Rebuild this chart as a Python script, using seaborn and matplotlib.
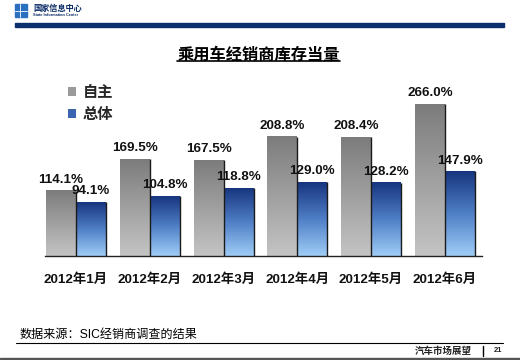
import numpy as np
import pandas as pd
import matplotlib
matplotlib.use('Agg')
import matplotlib.pyplot as plt
from matplotlib.colors import LinearSegmentedColormap
from matplotlib.patches import Rectangle, Patch
from matplotlib.lines import Line2D
import seaborn as sns

# data
months = ['2012年1月', '2012年2月', '2012年3月', '2012年4月', '2012年5月', '2012年6月']
own_brand = [114.1, 169.5, 167.5, 208.8, 208.4, 266.0]   # 自主
overall = [94.1, 104.8, 118.8, 129.0, 128.2, 147.9]      # 总体
series = ['自主', '总体']

df = pd.DataFrame({
    'month': months * 2,
    'series': [series[0]] * len(months) + [series[1]] * len(months),
    'value': own_brand + overall,
})

sns.set_style('white')
plt.rcParams['font.family'] = ['Liberation Sans', 'Noto Sans CJK SC']

W, H = 520, 360
fig = plt.figure(figsize=(W / 100, H / 100), dpi=100)

# axes placed in pixel terms of the reference
ax = fig.add_axes([45 / W, (H - 255.7) / H, 436.7 / W, 171 / H])
sns.barplot(data=df, x='month', y='value', hue='series', hue_order=series,
            width=0.813, ax=ax, legend=False, saturation=1)

gray_cmap = LinearSegmentedColormap.from_list('g', ['#c4c4c4', '#7c7c7c'])
blue_cmap = LinearSegmentedColormap.from_list('b', ['#9fcdf7', '#4f7fc6', '#17357f'])
grad = np.linspace(0, 1, 256).reshape(-1, 1)

for cont, cmap in zip(ax.containers, [gray_cmap, blue_cmap]):
    for bar in cont:
        x, w, h = bar.get_x(), bar.get_width(), bar.get_height()
        ax.imshow(grad, extent=[x, x + w, 0, h], origin='lower', aspect='auto',
                  cmap=cmap, zorder=2)
        bar.set_facecolor('none')
        bar.set_edgecolor('none')
        # dark right edge like the 3D shading
        ax.plot([x + w, x + w], [0, h], color='#1a1a1a', lw=1.0, zorder=3,
                solid_capstyle='butt')

for cont, vals in zip(ax.containers, [own_brand, overall]):
    for bar, v in zip(cont, vals):
        ax.annotate(f'{v:.1f}%', (bar.get_x() + bar.get_width() / 2, bar.get_height()),
                    xytext=(0, 3.5), textcoords='offset points', ha='center', va='bottom',
                    fontsize=9.6, fontweight='bold', color='#111111', zorder=5)

ax.set_xlim(-0.42, 5.5)
ax.set_ylim(0, 300)
ax.set_xlabel('')
ax.set_ylabel('')
ax.set_yticks([])
ax.tick_params(axis='x', length=0, pad=13)
for lab in ax.get_xticklabels():
    lab.set_fontsize(9.6)
    lab.set_fontweight('bold')
    lab.set_color('#111111')
for side in ['top', 'right', 'left']:
    ax.spines[side].set_visible(False)
ax.spines['bottom'].set_color('#222222')
ax.spines['bottom'].set_linewidth(1.0)
ax.set_facecolor('none')

# legend
handles = [Patch(facecolor='#9a9a9a', edgecolor='none'),
           Patch(facecolor='#3d64b0', edgecolor='none')]
fig.legend(handles, series, loc='upper left', bbox_to_anchor=(54 / W, 1 - 72 / H),
           frameon=False, handlelength=0.55, handleheight=0.55, handletextpad=0.45,
           labelspacing=0.55, prop={'size': 11, 'weight': 'bold'})

# title with underline
fig.text(258.5 / W, 1 - 55 / H, '乘用车经销商库存当量', ha='center', va='center',
         fontsize=11.7, fontweight='bold', color='black')
fig.add_artist(Line2D([177 / W, 340 / W], [1 - 61 / H, 1 - 61 / H], color='black', lw=1.2))

# header
fig.add_artist(Rectangle((15 / W, 1 - 17 / H), 12 / W, 13 / H, color='#2a6fc0'))
fig.add_artist(Line2D([15 / W, 27 / W], [1 - 11 / H, 1 - 11 / H], color='white', lw=0.6))
fig.add_artist(Line2D([20 / W, 20 / W], [1 - 4 / H, 1 - 17 / H], color='white', lw=0.6))
fig.text(33 / W, 1 - 8.5 / H, '国家信息中心', ha='left', va='center', fontsize=5.9,
         fontweight='bold', color='#0a2a66')
fig.text(33 / W, 1 - 15.5 / H, 'State Information Center', ha='left', va='center',
         fontsize=2.8, fontweight='bold', color='#0a2a66')
fig.add_artist(Rectangle((15 / W, 1 - 27 / H), 489 / W, 4 / H, color='#0b2f6c'))

# footer
fig.text(20 / W, 1 - 335 / H, '数据来源：SIC经销商调查的结果', ha='left', va='center',
         fontsize=8.7, color='black')
fig.add_artist(Line2D([16 / W, 503 / W], [1 - 343 / H, 1 - 343 / H], color='black', lw=0.8))
fig.text(472 / W, 1 - 351 / H, '汽车市场展望', ha='right', va='center', fontsize=6.8,
         fontweight='bold', color='#222222')
fig.add_artist(Line2D([483 / W, 483 / W], [1 - 346 / H, 1 - 356 / H], color='black', lw=1.0))
fig.text(494 / W, 1 - 351 / H, '21', ha='left', va='center', fontsize=5.5,
         fontweight='bold', color='#222222')
fig.add_artist(Rectangle((0, 0), 1, 2.5 / H, color='#555555'))

fig.savefig('out.png', dpi=100)
